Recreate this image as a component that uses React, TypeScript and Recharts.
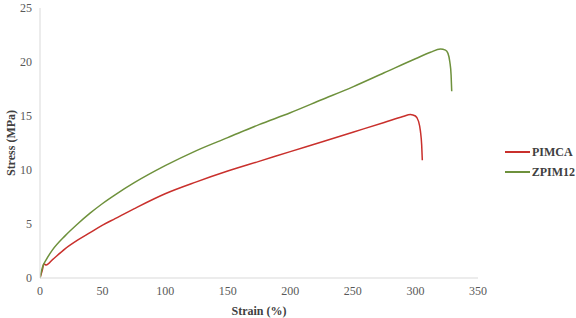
import React from 'react';
import { LineChart, Line, XAxis, YAxis, Legend } from 'recharts';

// strain (%) / stress (MPa)
const pimcaStrain = [0, 2, 3, 5, 10, 20, 30, 40, 50, 60, 75, 100, 125, 150, 175, 200, 225, 250, 275, 290, 296, 300, 302.5, 304, 305, 305.5];
const pimcaStress = [0, 0.8, 1.3, 1.2, 1.7, 2.7, 3.5, 4.2, 4.9, 5.5, 6.4, 7.8, 8.9, 9.9, 10.8, 11.7, 12.6, 13.5, 14.4, 14.95, 15.15, 15.0, 14.5, 13.6, 12.3, 10.9];

const zpimStrain = [0, 2, 5, 10, 20, 30, 40, 50, 60, 75, 100, 125, 150, 175, 200, 225, 250, 275, 300, 312, 320, 324, 326, 327.5, 328.5, 329];
const zpimStress = [0, 1.0, 1.7, 2.6, 3.9, 5.0, 6.0, 6.9, 7.7, 8.8, 10.4, 11.8, 13.0, 14.2, 15.3, 16.5, 17.7, 19.0, 20.3, 20.9, 21.2, 21.1, 20.8, 20.0, 18.8, 17.3];

const xTicks = [0, 50, 100, 150, 200, 250, 300, 350];
const yTicks = [0, 5, 10, 15, 20, 25];

const seriesNames = ['PIMCA', 'ZPIM12'];
const seriesColors = ['#C9302C', '#6E913C'];

const pimcaData = pimcaStrain.map((s, i) => ({ strain: s, stress: pimcaStress[i] }));
const zpimData = zpimStrain.map((s, i) => ({ strain: s, stress: zpimStress[i] }));

const FONT = 'Liberation Serif, Tinos, DejaVu Serif, serif';

const LegendBox = () => (
  <div style={{ fontFamily: FONT, fontSize: 12, fontWeight: 'bold', color: '#404040' }}>
    {seriesNames.map((name, i) => (
      <div key={name} style={{ display: 'flex', alignItems: 'center', height: 20 }}>
        <span style={{ display: 'inline-block', width: 25, height: 0, borderTop: `2px solid ${seriesColors[i]}`, marginRight: 2 }} />
        <span>{name}</span>
      </div>
    ))}
  </div>
);

const YTitle = (props: any) => {
  const vb = props.viewBox || { x: 0, y: 8, width: 40, height: 270 };
  const cx = vb.x + 11;
  const cy = vb.y + vb.height / 2;
  return (
    <text
      x={cx}
      y={cy}
      transform={`rotate(-90 ${cx} ${cy})`}
      textAnchor="middle"
      dominantBaseline="central"
      style={{ fontFamily: FONT, fontSize: 12, fontWeight: 'bold', fill: '#404040' }}
    >
      Stress (MPa)
    </text>
  );
};

export default function App() {
  return (
    <div style={{ position: 'absolute', left: 0, top: 0, width: 576, height: 318, background: '#fff', fontFamily: FONT }}>
      <LineChart width={576} height={318} margin={{ top: 8, right: 98, bottom: 0, left: 0 }} style={{ fontFamily: FONT }}>
        <XAxis
          type="number"
          dataKey="strain"
          domain={[0, 350]}
          ticks={xTicks}
          allowDataOverflow
          height={40}
          tickLine={false}
          axisLine={{ stroke: '#D9D9D9', strokeWidth: 1 }}
          tick={{ fill: '#595959', fontSize: 12, style: { fontFamily: FONT } }}
          label={{ value: 'Strain (%)', position: 'insideBottom', offset: 3, style: { fill: '#404040', fontSize: 12, fontWeight: 'bold', fontFamily: FONT } }}
        />
        <YAxis
          type="number"
          dataKey="stress"
          domain={[0, 25]}
          ticks={yTicks}
          width={40}
          tickLine={false}
          axisLine={{ stroke: '#D9D9D9', strokeWidth: 1 }}
          tick={{ fill: '#595959', fontSize: 12, style: { fontFamily: FONT } }}
          label={{ content: YTitle }}
        />
        <Legend
          layout="vertical"
          align="center"
          verticalAlign="middle"
          content={LegendBox}
          wrapperStyle={{ left: 505, top: 142, width: 70 }}
        />
        <Line
          data={pimcaData}
          dataKey="stress"
          name={seriesNames[0]}
          stroke={seriesColors[0]}
          strokeWidth={1.5}
          dot={false}
          type="monotone"
          isAnimationActive={false}
        />
        <Line
          data={zpimData}
          dataKey="stress"
          name={seriesNames[1]}
          stroke={seriesColors[1]}
          strokeWidth={1.5}
          dot={false}
          type="monotone"
          isAnimationActive={false}
        />
      </LineChart>
    </div>
  );
}
